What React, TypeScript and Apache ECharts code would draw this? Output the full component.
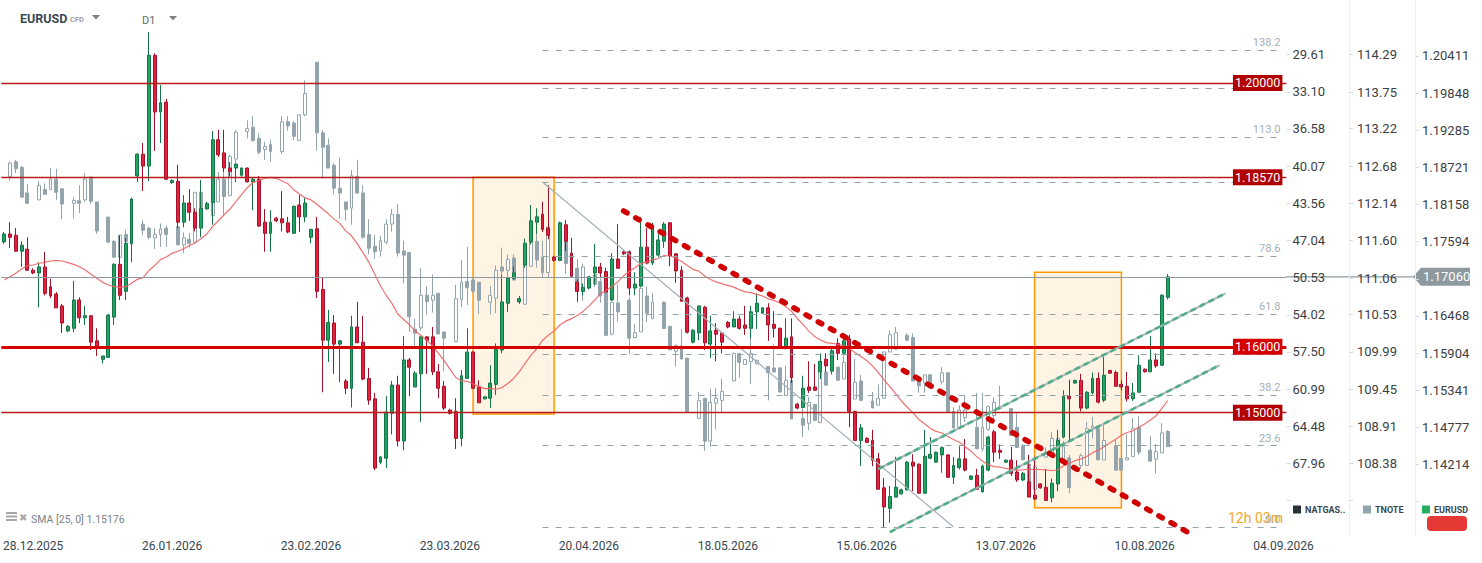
import React, { useEffect, useRef } from "react";
import * as echarts from "echarts";

// ---------- categories / ticks ----------
const START_DATE = [2025, 11, 22];
const CATEGORY_COUNT = 222;
const X_TICKS = ["28.12.2025", "26.01.2026", "23.02.2026", "23.03.2026", "20.04.2026", "18.05.2026", "15.06.2026", "13.07.2026", "10.08.2026", "04.09.2026"];
const X_TICK_FIRST = 5;
const X_TICK_EVERY = 24;

const EUR_TICKS = [1.14214, 1.14777, 1.15341, 1.15904, 1.16468, 1.17594, 1.18158, 1.18721, 1.19285, 1.19848, 1.20411];
const EUR_TICK_MARKS = [1.1365, 1.14214, 1.14777, 1.15341, 1.15904, 1.16468, 1.17031, 1.17594, 1.18158, 1.18721, 1.19285, 1.19848, 1.20411];
const TNOTE_TICKS = [108.38, 108.91, 109.45, 109.99, 110.53, 111.06, 111.6, 112.14, 112.68, 113.22, 113.75, 114.29];
const TNOTE_TICK_MARKS = [107.84, ...TNOTE_TICKS];
const NAT_TICKS = [29.61, 33.1, 36.58, 40.07, 43.56, 47.04, 50.53, 54.02, 57.5, 60.99, 64.48, 67.96];
const NAT_TICK_MARKS = [...NAT_TICKS, 71.45];

const EUR_RANGE = [1.131453, 1.212587];
const TNOTE_RANGE = [107.343, 115.081];
const NAT_RANGE = [24.476, 74.69];

// ---------- EURUSD daily candles [open, close, low, high] ----------
const EURUSD = [
  [1.1759, 1.1771, 1.1756, 1.1774], [1.1771, 1.1766, 1.175, 1.1789], [1.1769, 1.1745, 1.1744, 1.178], [1.1745, 1.1754, 1.1721, 1.176],
  [1.1748, 1.1716, 1.1715, 1.1766], [1.1716, 1.1712, 1.171, 1.1719], [1.1712, 1.1721, 1.166, 1.1728], [1.1721, 1.1681, 1.1678, 1.1744],
  [1.1691, 1.1677, 1.1674, 1.1703], [1.168, 1.1659, 1.1659, 1.1683], [1.1662, 1.1636, 1.1621, 1.1665], [1.1624, 1.1631, 1.1622, 1.1633],
  [1.1628, 1.1671, 1.1622, 1.17], [1.1671, 1.1644, 1.1636, 1.1675], [1.1644, 1.1647, 1.1633, 1.1662], [1.1647, 1.1607, 1.1595, 1.1648],
  [1.1609, 1.1598, 1.1586, 1.1628], [1.1581, 1.1586, 1.1575, 1.1586], [1.1584, 1.1648, 1.1583, 1.165], [1.1645, 1.1725, 1.1633, 1.1727],
  [1.1725, 1.1678, 1.1671, 1.1769], [1.1684, 1.1757, 1.1671, 1.1765], [1.1757, 1.1824, 1.1728, 1.1826], [1.1859, 1.1892, 1.185, 1.1894],
  [1.1892, 1.1874, 1.1836, 1.1909], [1.1874, 1.2042, 1.1851, 1.2077], [1.2042, 1.1956, 1.1897, 1.2045], [1.1956, 1.197, 1.1909, 1.1997],
  [1.1971, 1.1854, 1.1853, 1.1976], [1.1849, 1.1852, 1.1847, 1.1854], [1.1851, 1.1789, 1.178, 1.1876], [1.1789, 1.1818, 1.1781, 1.183],
  [1.1818, 1.1804, 1.1791, 1.1839], [1.1804, 1.178, 1.1775, 1.181], [1.178, 1.181, 1.1766, 1.1853], [1.1809, 1.1817, 1.1808, 1.182],
  [1.1819, 1.1914, 1.1785, 1.1927], [1.1914, 1.1891, 1.1888, 1.1929], [1.1894, 1.1871, 1.1865, 1.1929], [1.1871, 1.1866, 1.1858, 1.188],
  [1.1871, 1.1877, 1.185, 1.1878], [1.186, 1.1871, 1.1858, 1.1872], [1.1871, 1.185, 1.1849, 1.1872], [1.185, 1.1854, 1.1807, 1.1856],
  [1.1854, 1.1783, 1.1782, 1.1859], [1.1789, 1.1772, 1.1744, 1.1809], [1.1772, 1.1789, 1.1744, 1.1807], [1.1795, 1.1791, 1.1789, 1.1797],
  [1.1794, 1.1788, 1.1775, 1.1836], [1.1788, 1.1774, 1.1772, 1.1797], [1.1772, 1.1813, 1.1771, 1.1814], [1.1815, 1.1797, 1.1774, 1.183],
  [1.1797, 1.1818, 1.1789, 1.1826], [1.1766, 1.1778, 1.1757, 1.1779], [1.1779, 1.1684, 1.1674, 1.1797], [1.1687, 1.161, 1.1531, 1.1705],
  [1.161, 1.1637, 1.1577, 1.1656], [1.1636, 1.1604, 1.1559, 1.1648], [1.1604, 1.1609, 1.1546, 1.161], [1.1548, 1.1537, 1.1528, 1.1551],
  [1.1537, 1.163, 1.1508, 1.1647], [1.163, 1.1606, 1.1606, 1.1668], [1.1607, 1.1551, 1.1549, 1.1647], [1.1552, 1.1519, 1.1512, 1.1568],
  [1.1521, 1.1416, 1.1413, 1.153], [1.1425, 1.1433, 1.1422, 1.1434], [1.1431, 1.1501, 1.1416, 1.1525], [1.1499, 1.1542, 1.1467, 1.1548],
  [1.1542, 1.1457, 1.1449, 1.1556], [1.1457, 1.158, 1.1443, 1.1616], [1.158, 1.1569, 1.1525, 1.1583], [1.1539, 1.156, 1.1539, 1.1563],
  [1.1559, 1.1615, 1.1486, 1.1616], [1.1615, 1.161, 1.1559, 1.1616], [1.1615, 1.1562, 1.1557, 1.163], [1.1562, 1.1537, 1.1522, 1.1574],
  [1.154, 1.1507, 1.1504, 1.1548], [1.1504, 1.1499, 1.1497, 1.1506], [1.1502, 1.1461, 1.1445, 1.1522], [1.1461, 1.1556, 1.1449, 1.1565],
  [1.1552, 1.1592, 1.1552, 1.1628], [1.1592, 1.1537, 1.1536, 1.1593], [1.1539, 1.1515, 1.1515, 1.1549], [1.1521, 1.1524, 1.152, 1.1525],
  [1.1522, 1.1545, 1.1507, 1.1572], [1.1543, 1.1596, 1.1527, 1.1605], [1.1595, 1.1668, 1.159, 1.1709], [1.1666, 1.1704, 1.1653, 1.1705],
  [1.1704, 1.1712, 1.1702, 1.1722], [1.1668, 1.1673, 1.1665, 1.1677], [1.1724, 1.1757, 1.172, 1.1764], [1.1759, 1.1791, 1.1755, 1.1815],
  [1.1789, 1.1797, 1.1771, 1.181], [1.1801, 1.1778, 1.1774, 1.182], [1.178, 1.1769, 1.1763, 1.1845], [1.1736, 1.1731, 1.1729, 1.1738],
  [1.1731, 1.1788, 1.173, 1.179], [1.1785, 1.176, 1.1745, 1.1792], [1.1742, 1.1707, 1.1707, 1.1765], [1.1698, 1.1684, 1.1669, 1.1702],
  [1.1684, 1.169, 1.1678, 1.1696], [1.1689, 1.1706, 1.1687, 1.1707], [1.1712, 1.1721, 1.1694, 1.1756], [1.1721, 1.1712, 1.1704, 1.1727],
  [1.1714, 1.1683, 1.1683, 1.172], [1.1671, 1.1733, 1.1669, 1.1742], [1.1733, 1.1719, 1.1719, 1.1786], [1.1744, 1.1741, 1.1739, 1.1746],
  [1.1744, 1.1689, 1.1678, 1.1746], [1.1689, 1.1695, 1.1678, 1.1713], [1.1692, 1.1751, 1.169, 1.1797], [1.1751, 1.1727, 1.1725, 1.178],
  [1.1727, 1.1782, 1.1724, 1.1788], [1.1739, 1.1762, 1.1736, 1.1771], [1.176, 1.1786, 1.175, 1.1789], [1.1788, 1.1738, 1.1722, 1.1789],
  [1.1741, 1.1715, 1.1697, 1.1742], [1.1716, 1.1669, 1.1668, 1.1722], [1.1674, 1.1622, 1.162, 1.1676], [1.1607, 1.1625, 1.1605, 1.1627],
  [1.1621, 1.1662, 1.161, 1.1662], [1.166, 1.1606, 1.1595, 1.1662], [1.1604, 1.1624, 1.1583, 1.1647], [1.1625, 1.1619, 1.1578, 1.1636],
  [1.1621, 1.1607, 1.159, 1.1622], [1.1637, 1.163, 1.1628, 1.1639], [1.163, 1.1642, 1.163, 1.1654], [1.1642, 1.1628, 1.1626, 1.1647],
  [1.1633, 1.1628, 1.1618, 1.1662], [1.1628, 1.1653, 1.1613, 1.1662], [1.1653, 1.1666, 1.1627, 1.1681], [1.1651, 1.1659, 1.165, 1.166],
  [1.1659, 1.1633, 1.1609, 1.1666], [1.1634, 1.1628, 1.1614, 1.1654], [1.1628, 1.1598, 1.1597, 1.1629], [1.1598, 1.1613, 1.1596, 1.1643],
  [1.1615, 1.1553, 1.1545, 1.1643], [1.1513, 1.1507, 1.1505, 1.1515], [1.1508, 1.1537, 1.1508, 1.1556], [1.1539, 1.1534, 1.153, 1.1578],
  [1.1539, 1.1534, 1.1533, 1.1574], [1.1562, 1.1578, 1.1551, 1.159], [1.1581, 1.1571, 1.1562, 1.159], [1.1563, 1.1594, 1.1558, 1.1598],
  [1.1605, 1.159, 1.158, 1.1613], [1.159, 1.1609, 1.159, 1.1621], [1.1612, 1.1502, 1.1478, 1.1618], [1.1502, 1.1458, 1.1457, 1.1503],
  [1.1458, 1.1477, 1.1419, 1.1483], [1.1461, 1.1455, 1.1454, 1.1463], [1.1458, 1.1428, 1.1419, 1.1474], [1.143, 1.1384, 1.1383, 1.1439],
  [1.1386, 1.1357, 1.1326, 1.1401], [1.1355, 1.1373, 1.1333, 1.1389], [1.1372, 1.1387, 1.1372, 1.1433], [1.1377, 1.1383, 1.1376, 1.1385],
  [1.1383, 1.1425, 1.1382, 1.1427], [1.1425, 1.1419, 1.1381, 1.1437], [1.1422, 1.1378, 1.1377, 1.1423], [1.1378, 1.1434, 1.1377, 1.1474],
  [1.1431, 1.1437, 1.143, 1.1463], [1.1425, 1.144, 1.1424, 1.1441], [1.1436, 1.1447, 1.1409, 1.1449], [1.1436, 1.1402, 1.1401, 1.1437],
  [1.1402, 1.142, 1.1392, 1.1433], [1.1417, 1.143, 1.1414, 1.1449], [1.143, 1.1413, 1.1411, 1.146], [1.1399, 1.1404, 1.1398, 1.1405],
  [1.1405, 1.1384, 1.1383, 1.1415], [1.138, 1.1419, 1.1379, 1.1421], [1.1413, 1.1463, 1.1411, 1.1465], [1.1471, 1.144, 1.1425, 1.1474],
  [1.1443, 1.144, 1.143, 1.1452], [1.1425, 1.1428, 1.1424, 1.1429], [1.1428, 1.1408, 1.1404, 1.1448], [1.141, 1.1398, 1.1395, 1.1428],
  [1.1398, 1.1408, 1.1396, 1.141], [1.1395, 1.1372, 1.1372, 1.1436], [1.1375, 1.1369, 1.1368, 1.1433], [1.1392, 1.1386, 1.1385, 1.1393],
  [1.1387, 1.1367, 1.1367, 1.1415], [1.1371, 1.1393, 1.1364, 1.14], [1.1392, 1.1458, 1.1381, 1.1474], [1.1463, 1.1525, 1.1461, 1.1534],
  [1.1525, 1.1521, 1.1458, 1.155], [1.1545, 1.1549, 1.1544, 1.155], [1.1549, 1.1507, 1.1502, 1.1559], [1.1507, 1.1531, 1.1505, 1.1533],
  [1.153, 1.1552, 1.1528, 1.1561], [1.1552, 1.1516, 1.1514, 1.1561], [1.1519, 1.1557, 1.1516, 1.1585], [1.1564, 1.156, 1.1559, 1.1565],
  [1.1561, 1.154, 1.154, 1.1564], [1.1543, 1.1539, 1.1534, 1.1549], [1.154, 1.1521, 1.1517, 1.1562], [1.1521, 1.153, 1.1518, 1.1545],
  [1.1531, 1.1572, 1.1531, 1.1587], [1.1566, 1.1562, 1.1561, 1.1567], [1.1562, 1.158, 1.1562, 1.1616], [1.158, 1.1571, 1.1568, 1.159],
  [1.1572, 1.1678, 1.1571, 1.168], [1.1675, 1.1706, 1.1672, 1.171],
];

// ---------- TNOTE overlay candles [open, close, low, high] (null = no session) ----------
const TNOTE = [
  null, [112.53, 112.72, 112.47, 112.75], [112.74, 112.64, 112.58, 112.77], [112.66, 112.23, 112.22, 112.68], [112.29, 112.14, 112.13, 112.42],
  null, [112.19, 112.4, 112.19, 112.46], [112.34, 112.27, 112.27, 112.43], [112.34, 112.49, 112.34, 112.65], [112.49, 112.3, 112.19, 112.64],
  [112.35, 112.13, 111.91, 112.36], null, [112.14, 112.18, 111.92, 112.23], [112.18, 112.14, 112.0, 112.4], [112.19, 112.49, 112.16, 112.58],
  [112.52, 112.17, 112.13, 112.52], [112.16, 111.74, 111.7, 112.16], null, [111.94, 111.58, 111.56, 111.95], [111.59, 111.36, 111.36, 111.61],
  [111.36, 111.68, 111.32, 111.68], [111.69, 111.59, 111.35, 111.76], [111.55, 111.69, 111.47, 111.7], null, [111.84, 111.75, 111.68, 111.9],
  [111.78, 111.65, 111.62, 111.8], [111.64, 111.69, 111.48, 111.78], [111.69, 111.77, 111.51, 111.85], [111.78, 111.69, 111.51, 111.82], null,
  [111.8, 111.54, 111.54, 112.04], [111.54, 111.64, 111.42, 111.72], [111.62, 111.56, 111.5, 111.71], [111.58, 112.3, 111.55, 112.3], [112.3, 112.08, 111.82, 112.48],
  null, [111.96, 112.16, 111.91, 112.21], [112.16, 112.49, 112.16, 112.59], [112.49, 112.24, 111.98, 112.59], [112.25, 112.82, 112.25, 112.84],
  [112.78, 113.17, 112.45, 113.2], null, [113.18, 113.22, 113.08, 113.34], [113.24, 113.05, 113.03, 113.4], [113.08, 112.88, 112.85, 113.15],
  [112.92, 112.96, 112.77, 113.03], [112.99, 112.89, 112.74, 113.06], null, [112.89, 113.32, 112.85, 113.4], [113.32, 113.26, 113.19, 113.4],
  [113.3, 113.11, 113.05, 113.33], [113.05, 113.42, 113.05, 113.43], [113.42, 113.73, 113.4, 113.92], null, [114.18, 113.16, 112.9, 114.18],
  [113.16, 112.95, 112.5, 113.2], [112.98, 112.65, 112.65, 113.08], [112.69, 112.36, 112.27, 112.72], [112.36, 112.29, 111.92, 112.8], [112.16, 112.05, 111.89, 112.16],
  [112.07, 112.54, 111.83, 112.62], [112.53, 112.29, 112.28, 112.77], [112.29, 111.65, 111.63, 112.4], [111.69, 111.49, 111.4, 111.91], [111.52, 111.44, 111.34, 111.68],
  [111.45, 111.6, 111.37, 111.67], [111.58, 111.84, 111.55, 111.91], [111.84, 111.98, 111.73, 112.06], [111.98, 111.42, 111.37, 112.13], [111.45, 111.39, 110.98, 111.6],
  [111.43, 110.5, 110.28, 111.43], [110.32, 110.26, 110.04, 110.47], [110.34, 110.81, 110.3, 111.2], [110.81, 110.72, 110.53, 110.94], [110.74, 110.81, 110.56, 111.11],
  [110.84, 110.25, 110.25, 110.84], [110.28, 110.19, 109.71, 110.28], null, [110.14, 110.76, 110.14, 110.96], [110.75, 111.0, 110.64, 111.32],
  [111.01, 110.92, 110.67, 111.51], [111.03, 110.87, 110.85, 111.05], [111.0, 110.74, 110.54, 111.0], null, [110.71, 110.81, 110.53, 110.94],
  [110.77, 111.17, 110.55, 111.24], [111.22, 111.16, 110.78, 111.5], [111.17, 111.33, 111.05, 111.4], [111.35, 111.03, 111.03, 111.4], null,
  [110.68, 111.25, 110.68, 111.26], [111.23, 111.58, 111.23, 111.65], [111.59, 111.32, 111.21, 111.76], [111.36, 111.14, 111.07, 111.6], [111.14, 111.8, 111.07, 111.85],
  null, [111.51, 111.58, 111.34, 111.8], [111.59, 111.27, 111.12, 111.8], [111.32, 111.16, 111.07, 111.6], [111.2, 110.87, 110.7, 111.33],
  [110.87, 111.22, 110.73, 111.27], null, [111.11, 110.97, 110.93, 111.18], [111.01, 110.8, 110.7, 111.05], [111.01, 110.23, 110.23, 111.01],
  [110.25, 110.71, 110.23, 110.71], [110.7, 110.57, 110.43, 110.97], null, [110.74, 110.19, 109.96, 110.79], [110.2, 110.27, 110.19, 110.4],
  [110.28, 110.91, 110.28, 110.91], [110.8, 110.55, 110.42, 110.93], [110.47, 110.71, 110.47, 110.84], null, [110.71, 110.33, 110.33, 110.72],
  [110.36, 110.02, 110.02, 110.37], [110.0, 110.08, 109.78, 110.1], [110.08, 109.89, 109.88, 110.32], [109.9, 109.13, 109.13, 109.91], null,
  [109.03, 109.29, 109.03, 109.41], [109.32, 108.7, 108.56, 109.32], [108.7, 109.26, 108.62, 109.46], [109.25, 109.32, 108.87, 109.47], [109.29, 109.42, 109.12, 109.6],
  null, [109.57, 109.97, 109.57, 109.98], [109.97, 109.84, 109.62, 109.97], [109.81, 109.88, 109.8, 109.89], [109.85, 109.97, 109.53, 110.38],
  [109.82, 109.87, 109.81, 109.88], null, [109.78, 109.69, 109.29, 109.78], [109.76, 109.7, 109.7, 110.1], [109.76, 109.41, 109.41, 109.77],
  [109.36, 109.58, 109.36, 109.79], [109.58, 109.02, 109.02, 109.65], null, [109.03, 108.93, 108.76, 109.2], [108.96, 109.26, 108.86, 109.34],
  [109.23, 109.0, 109.0, 109.24], [108.97, 109.83, 108.97, 109.9], [109.7, 109.51, 109.51, 109.79], null, [109.77, 109.58, 109.58, 109.78],
  [109.6, 109.84, 109.6, 109.96], [109.84, 109.29, 108.99, 109.96], [109.31, 109.55, 109.31, 109.89], [109.57, 109.29, 109.29, 109.66], null,
  [109.28, 109.18, 109.18, 109.41], [109.22, 109.32, 109.22, 109.52], [109.32, 109.99, 109.32, 110.0], [109.99, 110.24, 109.99, 110.3], [110.03, 110.27, 110.03, 110.35],
  null, [110.23, 110.16, 110.16, 110.26], [110.2, 109.57, 109.57, 110.26], [109.57, 109.5, 109.4, 109.57], [109.54, 109.66, 109.4, 109.66],
  [109.66, 109.47, 109.47, 109.67], null, [109.56, 109.69, 109.52, 109.77], [109.69, 109.12, 109.12, 109.69], [109.13, 108.89, 108.89, 109.19],
  [108.9, 109.15, 108.9, 109.22], [109.04, 109.15, 108.98, 109.37], null, [108.9, 108.59, 108.59, 109.4], [108.59, 108.9, 108.55, 109.4],
  [108.87, 109.2, 108.85, 109.22], [109.07, 109.26, 109.0, 109.33], [109.17, 109.2, 109.15, 109.5], null, [109.17, 108.78, 108.78, 109.18],
  [108.9, 108.61, 108.61, 109.1], [108.63, 108.43, 108.43, 108.66], [108.37, 108.11, 108.02, 108.44], [108.0, 108.33, 108.0, 108.37], null,
  [108.47, 108.54, 108.47, 108.61], [108.52, 108.74, 108.52, 108.83], [108.17, 108.74, 108.17, 108.76], [108.4, 108.62, 108.35, 108.7], [108.46, 108.03, 107.95, 108.5],
  null, [108.35, 108.49, 108.3, 108.52], [108.35, 108.88, 108.35, 108.98], [108.89, 108.92, 108.74, 109.05], [108.88, 108.43, 108.43, 108.9],
  [108.43, 108.71, 108.43, 108.96], null, [108.63, 108.28, 108.28, 108.72], [108.45, 108.28, 108.02, 108.54], [108.43, 108.46, 108.43, 108.8],
  [108.48, 108.88, 108.48, 109.03], [108.9, 108.54, 108.5, 109.06], null, [108.57, 108.41, 108.41, 108.77], [108.44, 108.55, 108.23, 108.66],
  [108.53, 108.82, 108.53, 108.96], [108.84, 108.62, 108.62, 108.86],
];

// ---------- study: SMA 25 (first 24 values) ----------
const SMA_PERIOD = 25;
const SMA_HEAD = [1.17012, 1.17063, 1.17114, 1.17179, 1.17229, 1.1724, 1.17266, 1.17281, 1.17301, 1.17311, 1.17301, 1.17276,
  1.1725, 1.17214, 1.17164, 1.17099, 1.17038, 1.16977, 1.16937, 1.16911, 1.16901, 1.16911, 1.16962, 1.17023];
const SMA_TEXT = "SMA [25, 0] 1.15176";

// ---------- drawings ----------
const LAST_PRICE = 1.1706;
const H_LEVELS = [1.2, 1.1857, 1.16, 1.15];
const FIB_LOW = 1.13267;
const FIB_HIGH = 1.18499;
const FIB_LEVELS = [0, 23.6, 38.2, 50, 61.8, 78.6, 100, 113.0, 127.2, 138.2];
const FIB_FROM = 93;
const FIB_TO = 221;
const FIB_DIAG = [[93, FIB_HIGH], [164, FIB_LOW]];
const TREND_DOWN = [[107, 1.1806], [205, 1.1316]];
const CHANNEL_UPPER = [[151, 1.14146], [211, 1.16811]];
const CHANNEL_LOWER = [[153, 1.1319], [210, 1.15723]];
const BOXES = [
  [[81, 1.1857], [95, 1.1498]],
  [[178, 1.1713], [193, 1.1356]],
];

function pad(n: number) {
  return n < 10 ? "0" + n : "" + n;
}
function buildDates(): string[] {
  const out: string[] = [];
  const d = new Date(Date.UTC(START_DATE[0], START_DATE[1], START_DATE[2]));
  while (out.length < CATEGORY_COUNT) {
    if (d.getUTCDay() !== 6) out.push(pad(d.getUTCDate()) + "." + pad(d.getUTCMonth() + 1) + "." + d.getUTCFullYear());
    d.setUTCDate(d.getUTCDate() + 1);
  }
  return out;
}

const FONT = "Roboto, 'Noto Sans', sans-serif";

export default function App() {
  const ref = useRef<HTMLDivElement>(null);

  useEffect(() => {
    if (!ref.current) return;
    const chart = echarts.init(ref.current, undefined, { renderer: "svg" });
    const dates = buildDates();
    const closes = EURUSD.map((r) => r[1]);
    const sma = closes.map((_, i) => {
      if (i < SMA_PERIOD - 1) return SMA_HEAD[i];
      let s = 0;
      for (let k = i - SMA_PERIOD + 1; k <= i; k++) s += closes[k];
      return +(s / SMA_PERIOD).toFixed(5);
    });
    const tnoteData = TNOTE.map((r) => (r ? r : ["-", "-", "-", "-"]));

    const hLineStyle = (v: number) =>
      v === 1.16
        ? { color: "#d50000", width: 3, type: "solid" }
        : { color: "#b71c1c", width: 1.4, type: "solid" };

    const fibLines = FIB_LEVELS.map((lv) => {
      const p = FIB_LOW + (lv / 100) * (FIB_HIGH - FIB_LOW);
      return [
        {
          coord: [FIB_FROM, p],
          lineStyle: { color: "#90a4ae", width: 1, type: [6, 7] },
          label: {
            show: true,
            position: "insideEndTop",
            formatter: lv.toFixed(1),
            color: "#a3b1b8",
            fontSize: 11,
            fontFamily: FONT,
            distance: [3, 2],
          },
        },
        { coord: [FIB_TO, p] },
      ];
    });

    const hLines = H_LEVELS.map((v) => ({
      yAxis: v,
      lineStyle: hLineStyle(v),
      label: {
        show: true,
        position: "insideEnd",
        formatter: v.toFixed(5),
        color: "#ffffff",
        backgroundColor: v === 1.16 ? "#d50000" : "#b00000",
        padding: [2, 2, 1, 2],
        fontSize: 12.5,
        fontFamily: FONT,
        distance: 4,
      },
    }));

    const seg = (pts: number[][], style: any) => [
      { coord: pts[0], lineStyle: style, label: { show: false } },
      { coord: pts[1] },
    ];

    const option: any = {
      animation: false,
      backgroundColor: "#ffffff",
      textStyle: { fontFamily: FONT },
      grid: { left: 1, top: 0, right: 195.6, bottom: 28 },
      legend: [
        { name: "NATGAS..", color: "#263238", left: 1293 },
        { name: "TNOTE", color: "#90a4ae", left: 1363 },
        { name: "EURUSD", color: "#27ae60", left: 1422 },
      ].map((l) => ({
        data: [{ name: l.name, itemStyle: { color: l.color, borderWidth: 0 } }],
        left: l.left,
        top: 505,
        padding: 0,
        icon: "rect",
        itemWidth: 8,
        itemHeight: 8,
        itemGap: 4,
        selectedMode: false,
        textStyle: { fontSize: 9, fontWeight: "bold", color: "#37474f", fontFamily: FONT, padding: [0, 0, 0, -1] },
      })),
      xAxis: {
        type: "category",
        data: dates,
        boundaryGap: true,
        axisLine: { show: false },
        axisTick: { show: false },
        splitLine: { show: false },
        axisLabel: {
          interval: (idx: number) => idx >= X_TICK_FIRST && (idx - X_TICK_FIRST) % X_TICK_EVERY === 0,
          formatter: (_v: string, idx: number) => X_TICKS[(idx - X_TICK_FIRST) / X_TICK_EVERY] || "",
          color: "#37474f",
          fontSize: 12,
          fontFamily: FONT,
          margin: 5,
        },
      },
      yAxis: [
        {
          type: "value",
          position: "right",
          offset: 0,
          inverse: true,
          min: NAT_RANGE[0],
          max: NAT_RANGE[1],
          axisLine: { show: false },
          splitLine: { show: false },
          axisTick: { show: true, length: 4, lineStyle: { color: "#d5dde1" }, customValues: NAT_TICK_MARKS },
          axisLabel: { customValues: NAT_TICKS, formatter: (v: number) => v.toFixed(2), margin: 6, color: "#3c4043", fontSize: 13, fontFamily: FONT },
        },
        {
          type: "value",
          position: "right",
          offset: 62.6,
          min: TNOTE_RANGE[0],
          max: TNOTE_RANGE[1],
          axisLine: { show: true, lineStyle: { color: "#edf0f2", width: 1 } },
          splitLine: { show: false },
          axisTick: { show: true, length: 4, lineStyle: { color: "#d5dde1" }, customValues: TNOTE_TICK_MARKS },
          axisLabel: { customValues: TNOTE_TICKS, formatter: (v: number) => v.toFixed(2), margin: 8, color: "#3c4043", fontSize: 13, fontFamily: FONT },
        },
        {
          type: "value",
          position: "right",
          offset: 128.6,
          min: EUR_RANGE[0],
          max: EUR_RANGE[1],
          axisLine: { show: true, lineStyle: { color: "#edf0f2", width: 1 } },
          splitLine: { show: false },
          axisTick: { show: true, length: 4, lineStyle: { color: "#d5dde1" }, customValues: EUR_TICK_MARKS },
          axisLabel: { customValues: EUR_TICKS, formatter: (v: number) => v.toFixed(5), margin: 7, color: "#3c4043", fontSize: 13, fontFamily: FONT },
        },
      ],
      series: [
        {
          type: "line",
          name: "NATGAS..",
          yAxisIndex: 0,
          data: [],
          itemStyle: { color: "#263238" },
          showSymbol: false,
        },
        {
          type: "line",
          name: "zones",
          yAxisIndex: 2,
          data: [],
          silent: true,
          z: 1,
          markArea: {
            silent: true,
            itemStyle: { color: "rgba(255,152,0,0.11)", borderColor: "#ff9800", borderWidth: 1.5 },
            data: BOXES.map((b) => [{ coord: b[0] }, { coord: b[1] }]),
          },
        },
        {
          type: "candlestick",
          name: "TNOTE",
          yAxisIndex: 1,
          data: tnoteData,
          barWidth: 3.4,
          z: 2,
          itemStyle: {
            color: "#ffffff",
            color0: "#94a4ac",
            borderColor: "#94a4ac",
            borderColor0: "#94a4ac",
            borderWidth: 1,
          },
        },
        {
          type: "candlestick",
          name: "EURUSD",
          yAxisIndex: 2,
          data: EURUSD,
          barWidth: 3.4,
          z: 3,
          itemStyle: {
            color: "#21a366",
            color0: "#e3213c",
            borderColor: "#137446",
            borderColor0: "#a3122a",
            borderWidth: 1,
          },
        },
        {
          type: "line",
          name: "SMA",
          yAxisIndex: 2,
          data: sma,
          showSymbol: false,
          silent: true,
          z: 4,
          lineStyle: { color: "#f06262", width: 1.2, opacity: 0.9 },
        },
        {
          type: "line",
          name: "drawings",
          yAxisIndex: 2,
          data: [],
          silent: true,
          z: 5,
          markLine: {
            silent: true,
            precision: 6,
            symbol: ["none", "none"],
            animation: false,
            data: [
              ...fibLines,
              seg(FIB_DIAG, { color: "#a3afb6", width: 1.2, type: "solid" }),
              { yAxis: LAST_PRICE, lineStyle: { color: "#8d999f", width: 1.2, type: "solid" }, label: { show: false } },
              ...hLines,
              seg(CHANNEL_UPPER, { color: "#aab4b9", width: 2, type: "solid" }),
              seg(CHANNEL_UPPER, { color: "#52ad88", width: 2.6, type: [6, 4] }),
              seg(CHANNEL_LOWER, { color: "#aab4b9", width: 2, type: "solid" }),
              seg(CHANNEL_LOWER, { color: "#52ad88", width: 2.6, type: [6, 4] }),
              seg(TREND_DOWN, { color: "#d10000", width: 5.5, type: [4, 10], cap: "round" }),
            ],
          },
        },
      ],
      graphic: [
        { id: "t1", type: "text", x: 20, y: 18, style: { text: "EURUSD", font: "bold 12.5px " + FONT, fill: "#3b4a52", verticalAlign: "middle" } },
        { id: "t2", type: "text", x: 70, y: 19, style: { text: "CFD", font: "bold 7.5px " + FONT, fill: "#a0a0a0", verticalAlign: "middle" } },
        { id: "tr1", type: "polygon", shape: { points: [[92, 15], [100, 15], [96, 19.5]] }, style: { fill: "#808080" } },
        { id: "t3", type: "text", x: 142, y: 20, style: { text: "D1", font: "11px " + FONT, fill: "#5f6b70", verticalAlign: "middle" } },
        { id: "tr2", type: "polygon", shape: { points: [[169, 16], [177, 16], [173, 20.5]] }, style: { fill: "#808080" } },
        { id: "i1", type: "rect", shape: { x: 6, y: 512, width: 11, height: 2 }, style: { fill: "#a8a8a8" } },
        { id: "i2", type: "rect", shape: { x: 6, y: 515.5, width: 11, height: 2 }, style: { fill: "#a8a8a8" } },
        { id: "i3", type: "rect", shape: { x: 6, y: 519, width: 11, height: 2 }, style: { fill: "#a8a8a8" } },
        { id: "i4", type: "text", x: 19, y: 517, style: { text: "✖", font: "10px 'DejaVu Sans'", fill: "#a8a8a8", verticalAlign: "middle" } },
        { id: "t4", type: "text", x: 31, y: 519, style: { text: SMA_TEXT, font: "10.5px " + FONT, fill: "#7b8287", verticalAlign: "middle" } },
        { id: "t5", type: "text", x: 1228, y: 518, style: { text: "12h 03m", font: "14px " + FONT, fill: "#f5a524", verticalAlign: "middle" } },
        { id: "rr", type: "rect", shape: { x: 1427, y: 516, width: 40, height: 15, r: 4 }, style: { fill: "#e53935" } },
      ],
    };

    chart.setOption(option);

    const y = chart.convertToPixel({ yAxisIndex: 2 }, LAST_PRICE) as unknown as number;
    chart.setOption({
      graphic: [
        { id: "pl", type: "line", shape: { x1: 1286, y1: y, x2: 1414, y2: y }, style: { stroke: "#8d999f", lineWidth: 1.2 } },
        {
          id: "tag",
          type: "polygon",
          shape: { points: [[1413, y], [1421, y - 9], [1470, y - 9], [1470, y + 9], [1421, y + 9]] },
          style: { fill: "#8d999f" },
        },
        { id: "tagt", type: "text", x: 1423, y: y, style: { text: LAST_PRICE.toFixed(5), font: "13px " + FONT, fill: "#ffffff", verticalAlign: "middle" } },
      ],
    });

    return () => chart.dispose();
  }, []);

  return <div ref={ref} style={{ position: "absolute", left: 0, top: 0, width: 1482, height: 563 }} />;
}
